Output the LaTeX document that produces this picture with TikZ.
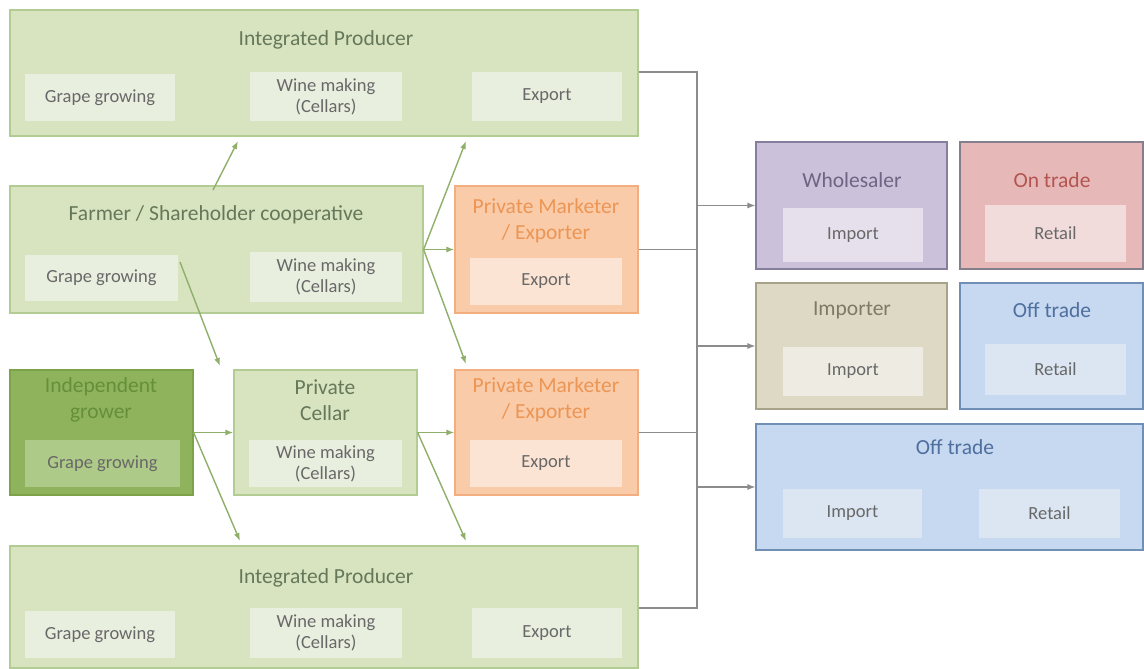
\documentclass[tikz,border=0pt]{standalone}
\usepackage{fontspec}
\setmainfont{Carlito}
\usetikzlibrary{arrows.meta}
\definecolor{gfill}{HTML}{D8E4C0}
\definecolor{gdraw}{HTML}{B3CC93}
\definecolor{gsub}{HTML}{E9EFDF}
\definecolor{gtext}{HTML}{66785A}
\definecolor{ifill}{HTML}{8FB35C}
\definecolor{idraw}{HTML}{7DA349}
\definecolor{isub}{HTML}{AECA88}
\definecolor{itext}{HTML}{658F3A}
\definecolor{ofill}{HTML}{F9CBA8}
\definecolor{odraw}{HTML}{F2AE80}
\definecolor{osub}{HTML}{FCE4D4}
\definecolor{otext}{HTML}{EC9656}
\definecolor{wfill}{HTML}{CCC1DA}
\definecolor{wdraw}{HTML}{857E9C}
\definecolor{wsub}{HTML}{E6E0EC}
\definecolor{wtext}{HTML}{6E6584}
\definecolor{rfill}{HTML}{E6B8B7}
\definecolor{rdraw}{HTML}{857E8C}
\definecolor{rsub}{HTML}{F2DCDB}
\definecolor{rtext}{HTML}{B35550}
\definecolor{mfill}{HTML}{DDD9C4}
\definecolor{mdraw}{HTML}{A7A28A}
\definecolor{msub}{HTML}{EEECE2}
\definecolor{mtext}{HTML}{7F7A65}
\definecolor{bfill}{HTML}{C6D9F0}
\definecolor{bdraw}{HTML}{6F8FB5}
\definecolor{bsub}{HTML}{DCE6F2}
\definecolor{btext}{HTML}{4F6F9F}
\definecolor{subtext}{HTML}{686868}
\definecolor{garrow}{HTML}{8FAF6A}
\definecolor{garr}{HTML}{8C8C8C}
\newcommand\mybox[7]{\node[#6, minimum width={#4-#2}, minimum height={#5-#3}] (#1) at ({(#2+#4)/2},{(#3+#5)/2}) {#7};}
\begin{document}
\begin{tikzpicture}[x=1pt,y=-1pt,
  bigbox/.style={draw, rectangle, line width=1.2pt, inner sep=0pt},
  gbox/.style={bigbox, fill=gfill, draw=gdraw},
  ibox/.style={bigbox, fill=ifill, draw=idraw},
  obox/.style={bigbox, fill=ofill, draw=odraw},
  wbox/.style={bigbox, fill=wfill, draw=wdraw},
  rbox/.style={bigbox, fill=rfill, draw=rdraw},
  mbox/.style={bigbox, fill=mfill, draw=mdraw},
  bbox/.style={bigbox, fill=bfill, draw=bdraw},
  sub/.style={rectangle, inner sep=0pt, align=center, text=subtext, font=\fontsize{18.5}{21}\selectfont},
  ttl/.style={inner sep=0pt, align=center, font=\fontsize{21.5}{26}\selectfont},
  garrowline/.style={draw=garrow, line width=1.4pt, -{Latex[length=8pt,width=6pt]}},
  grayline/.style={draw=garr, line width=1.2pt},
  grayarrow/.style={grayline, -{Latex[length=8pt,width=6pt]}}
]
\useasboundingbox (0,0) rectangle (1144,669);
\fill[white] (0,0) rectangle (1144,669);

% Integrated producer top
\mybox{ipt}{10}{10}{638}{136}{gbox}{}
\node[ttl, text=gtext] (iptT) at (326,40) {Integrated Producer};
\mybox{iptG}{25}{74}{175}{121}{sub, fill=gsub}{Grape growing}
\mybox{iptW}{250}{72}{402}{121}{sub, fill=gsub}{Wine making\\(Cellars)}
\mybox{iptE}{472}{72}{622}{121}{sub, fill=gsub}{Export}

% Farmer coop
\mybox{coop}{10}{186}{423}{313}{gbox}{}
\node[ttl, text=gtext] (coopT) at (216,215) {Farmer / Shareholder cooperative};
\mybox{coopG}{25}{255}{178}{301}{sub, fill=gsub}{Grape growing}
\mybox{coopW}{250}{252}{402}{302}{sub, fill=gsub}{Wine making\\(Cellars)}

% Private marketer 1
\mybox{pm1}{455}{186}{638}{313}{obox}{}
\node[ttl, text=otext] (pm1T) at (546,221) {Private Marketer\\/ Exporter};
\mybox{pm1E}{470}{258}{622}{305}{sub, fill=osub}{Export}

% Independent grower
\mybox{ind}{10}{370}{193}{495}{ibox}{}
\node[ttl, text=itext] (indT) at (101,400) {Independent\\grower};
\mybox{indG}{25}{440}{180}{487}{sub, fill=isub}{Grape growing}

% Private cellar
\mybox{pc}{234}{370}{417}{495}{gbox}{}
\node[ttl, text=gtext] (pcT) at (325,400) {Private\\Cellar};
\mybox{pcW}{249}{440}{402}{487}{sub, fill=gsub}{Wine making\\(Cellars)}

% Private marketer 2
\mybox{pm2}{455}{370}{638}{495}{obox}{}
\node[ttl, text=otext] (pm2T) at (546,400) {Private Marketer\\/ Exporter};
\mybox{pm2E}{470}{440}{622}{487}{sub, fill=osub}{Export}

% Integrated producer bottom
\mybox{ipb}{10}{546}{638}{668}{gbox}{}
\node[ttl, text=gtext] (ipbT) at (326,578) {Integrated Producer};
\mybox{ipbG}{25}{611}{175}{658}{sub, fill=gsub}{Grape growing}
\mybox{ipbW}{250}{608}{402}{658}{sub, fill=gsub}{Wine making\\(Cellars)}
\mybox{ipbE}{472}{608}{622}{658}{sub, fill=gsub}{Export}

% Right side
\mybox{whole}{756}{142}{947}{269}{wbox}{}
\node[ttl, text=wtext] (wholeT) at (852,180) {Wholesaler};
\mybox{wholeI}{783}{208}{923}{262}{sub, fill=wsub}{Import}

\mybox{ontr}{960}{142}{1143}{269}{rbox}{}
\node[ttl, text=rtext] (ontrT) at (1052,180) {On trade};
\mybox{ontrR}{985}{205}{1126}{262}{sub, fill=rsub}{Retail}

\mybox{imp}{756}{283}{947}{409}{mbox}{}
\node[ttl, text=mtext] (impT) at (852,310) {Importer};
\mybox{impI}{783}{347}{923}{396}{sub, fill=msub}{Import}

\mybox{off1}{960}{283}{1143}{409}{bbox}{}
\node[ttl, text=btext] (off1T) at (1052,310) {Off trade};
\mybox{off1R}{985}{344}{1126}{395}{sub, fill=bsub}{Retail}

\mybox{off2}{756}{424}{1143}{550}{bbox}{}
\node[ttl, text=btext] (off2T) at (955,447) {Off trade};
\mybox{off2I}{783}{489}{922}{538}{sub, fill=bsub}{Import}
\mybox{off2R}{979}{489}{1120}{538}{sub, fill=bsub}{Retail}

% Gray connectors
\coordinate (busT) at (697,72);
\coordinate (busB) at (697,608);
\coordinate (bus1) at (697,249.5);
\coordinate (bus2) at (697,432.5);
\coordinate (busW) at (697,205.5);
\coordinate (busM) at (697,346);
\coordinate (busO) at (697,487);
\draw[grayline] (ipt.east |- busT) -- (busT) -- (busB) -- (ipb.east |- busB);
\draw[grayline] (pm1.east) -- (bus1);
\draw[grayline] (pm2.east) -- (bus2);
\draw[grayarrow] (busW) -- (whole.west);
\draw[grayarrow] (busM) -- (imp.west);
\draw[grayarrow] (busO) -- (off2.west);

% Green arrows
\coordinate (coopTop) at (213,190);
\coordinate (iptIn1) at (238,141);
\coordinate (iptIn2) at (466,141);
\coordinate (pm2In) at (466,364);
\coordinate (coopGR) at (180,262);
\coordinate (pcIn) at (220,366);
\coordinate (ipbIn1) at (240,541);
\coordinate (ipbIn2) at (466,541);
\draw[garrowline] (coopTop) -- (iptIn1);
\draw[garrowline] (coop.east) -- (iptIn2);
\draw[garrowline] (coop.east) -- (pm1.west);
\draw[garrowline] (coop.east) -- (pm2In);
\draw[garrowline] (coopGR) -- (pcIn);
\draw[garrowline] (ind.east) -- (pc.west);
\draw[garrowline] (ind.east) -- (ipbIn1);
\draw[garrowline] (pc.east) -- (pm2.west);
\draw[garrowline] (pc.east) -- (ipbIn2);
\end{tikzpicture}
\end{document}
